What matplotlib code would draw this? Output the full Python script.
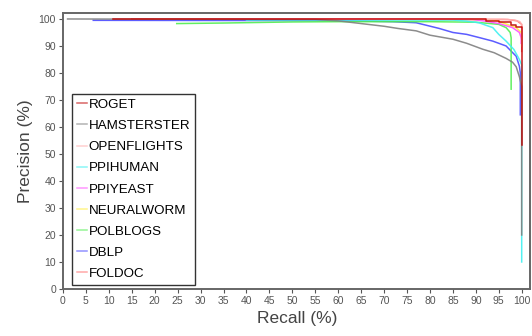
import matplotlib.pyplot as plt

plt.rcParams['font.family'] = ['Liberation Sans', 'DejaVu Sans']

names = ['ROGET', 'HAMSTERSTER', 'OPENFLIGHTS', 'PPIHUMAN', 'PPIYEAST',
         'NEURALWORM', 'POLBLOGS', 'DBLP', 'FOLDOC']
colors = ['#c00000', '#808080', '#ffb0b0', '#40f0f0', '#ff50ff',
          '#ffee40', '#50ee50', '#4a4aff', '#ff7070']

# recall (%) / precision (%)
roget_r = [11, 92.2, 95, 97.7, 98.8, 100]
roget_p = [100, 99.4, 98.8, 97.6, 97.2, 53.5]
ham_r = [1, 55, 60, 65, 70, 73, 77, 80, 85, 88, 91.5, 94, 96.6, 98, 98.8, 99.5, 100, 100]
ham_p = [100, 99.8, 99.3, 98.3, 97.3, 96.5, 95.6, 94, 92.5, 91, 88.8, 87.5, 85.4, 84, 82.3, 78.6, 75, 20]
openf_r = [20, 96, 98.5, 99.6, 100, 100]
openf_p = [100, 99.9, 99.6, 99, 98, 90]
ppih_r = [40, 70, 85, 88, 90.7, 92, 93.7, 95, 96.6, 98.3, 99.5, 100, 100]
ppih_p = [99.6, 99.6, 99.6, 99.2, 98.6, 97.8, 96.8, 94.3, 91.8, 88.7, 85, 83, 10]
ppiy_r = [30, 80, 89.3, 92, 95, 98, 99.5, 99.9, 99.9]
ppiy_p = [100, 99.9, 99.8, 99.2, 98.3, 96.8, 95, 93, 91]
neural_r = [30, 94, 96, 98.8, 99.9, 99.9]
neural_p = [100, 99.7, 98.5, 96.8, 95, 93]
polb_r = [24.8, 35, 50, 60, 80, 90, 95, 96.6, 97.5, 97.7, 97.7]
polb_p = [98.3, 98.5, 98.9, 99, 99, 98.8, 98, 96.8, 95, 93, 74]
dblp_r = [6.6, 55, 60, 66, 72, 77, 82, 85, 88, 91, 93.7, 96.6, 98.8, 99.5, 99.7, 99.7]
dblp_p = [99.5, 99.4, 99.4, 99.2, 99, 98.6, 96.5, 95, 94.3, 93, 91.8, 90, 86.2, 82.5, 80, 64.5]
foldoc_r = [15, 97, 99, 100, 100]
foldoc_p = [100, 99.8, 99.3, 98, 88]

curves = [(roget_r, roget_p), (ham_r, ham_p), (openf_r, openf_p), (ppih_r, ppih_p),
          (ppiy_r, ppiy_p), (neural_r, neural_p), (polb_r, polb_p),
          (dblp_r, dblp_p), (foldoc_r, foldoc_p)]

fig = plt.figure(figsize=(5.32, 3.36), dpi=100)
ax = fig.add_axes([0.1184, 0.14, 0.8786, 0.822])

handles = []
for i, (name, c, (r, p)) in enumerate(zip(names, colors, curves)):
    z = 10 if name == 'ROGET' else 2 + (len(names) - i) * 0.1
    ds = 'steps-post' if name == 'ROGET' else 'default'
    line, = ax.plot(r, p, color=c, lw=1.1, alpha=0.9, drawstyle=ds, zorder=z, label=name)
    handles.append(line)

ax.set_xlim(0, 101.9)
ax.set_ylim(0, 102.3)
ax.set_xticks(range(0, 101, 5))
ax.set_yticks(range(0, 101, 10))
ax.tick_params(labelsize=7.5, colors='#555555', length=3, width=0.8, pad=2)
ax.set_xlabel('Recall (%)', fontsize=12.5, color='#444444', labelpad=4)
ax.set_ylabel('Precision (%)', fontsize=12.5, color='#444444', labelpad=4)
for s in ax.spines.values():
    s.set_color('#666666')
    s.set_linewidth(1.4)

leg = ax.legend(handles=handles, loc='upper left', bbox_to_anchor=(0.019, 0.706),
                fontsize=9.6, frameon=True, fancybox=False, handlelength=0.75,
                handletextpad=0.15, labelspacing=0.66, borderaxespad=0, borderpad=0.35)
leg.get_frame().set_edgecolor('black')
leg.get_frame().set_linewidth(1.0)
for h in leg.get_lines():
    h.set_alpha(0.6)

plt.savefig('out.png', dpi=100)
